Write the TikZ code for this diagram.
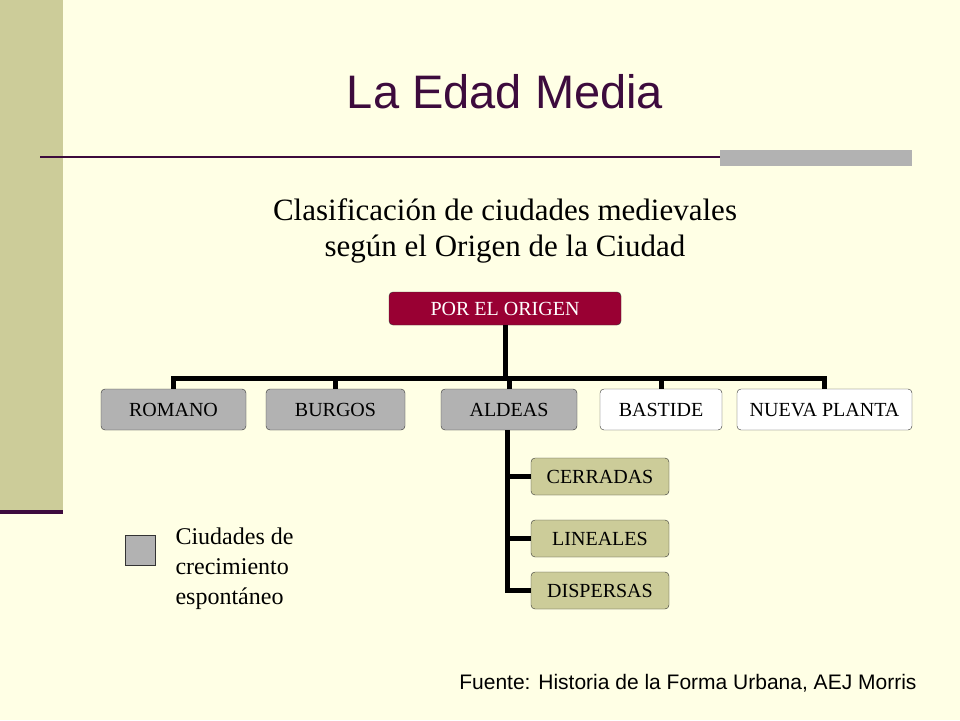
\documentclass[tikz,border=0pt]{standalone}
\usepackage{fontspec}
\setmainfont{Liberation Serif}
\newfontfamily\titlefont{Liberation Sans}
\definecolor{cream}{HTML}{FFFFE5}
\definecolor{olive}{HTML}{CCCC99}
\definecolor{darkpurple}{HTML}{3D0B3D}
\definecolor{crimson}{HTML}{990033}
\definecolor{boxgray}{HTML}{B2B2B2}
\definecolor{khaki}{HTML}{CCCC99}
\tikzset{
  box/.style={draw=black!80, rounded corners=4pt, minimum height=41pt, inner sep=0pt, text height=13pt, text depth=0pt, font=\fontsize{20}{20}\selectfont},
  subbox/.style={box, fill=khaki, minimum width=138pt, minimum height=37pt},
  tree/.style={line width=5pt}
}
\begin{document}
\begin{tikzpicture}[x=1pt,y=-1pt]
\useasboundingbox (0,0) rectangle (960,720);
\fill[cream] (0,0) rectangle (960,720);
\fill[olive] (0,0) rectangle (63,510);
\fill[darkpurple] (0,510) rectangle (63,514);
\draw[darkpurple, line width=1.5pt] (40,157)--(912,157);
\fill[boxgray] (720,150) rectangle (912,166);
\node[font=\titlefont\fontsize{47}{47}\selectfont, text=darkpurple] (title) at (505,92) {La Edad Media};
\node[font=\fontsize{31}{36}\selectfont, align=center] (subtitle) at (505,231) {Clasificación de ciudades medievales\\según el Origen de la Ciudad};
% arbol
\node[box, fill=crimson, text=white, minimum width=232pt, minimum height=33pt] (origen) at (505,308.5) {POR EL ORIGEN};
\node[box, fill=boxgray, minimum width=145pt] (romano) at (173.5,409.5) {ROMANO};
\node[box, fill=boxgray, minimum width=139pt] (burgos) at (335.5,409.5) {BURGOS};
\node[box, fill=boxgray, minimum width=136pt] (aldeas) at (509,409.5) {ALDEAS};
\node[box, fill=white, minimum width=122pt] (bastide) at (661,409.5) {BASTIDE};
\node[box, fill=white, minimum width=175pt] (nueva) at (824.5,409.5) {NUEVA PLANTA};
\node[subbox] (cerradas) at (600,476.5) {CERRADAS};
\node[subbox] (lineales) at (600,538.5) {LINEALES};
\node[subbox] (dispersas) at (600,590.5) {DISPERSAS};
\coordinate (bus) at (505,378);
\draw[tree] (origen.south) -- (bus);
\draw[tree] (romano.north) |- (bus) -| (nueva.north);
\foreach \n in {burgos,aldeas,bastide}
  \draw[tree] (\n.north) -- (\n.north |- bus);
\coordinate (trunk) at (507,590.5);
\draw[tree] (aldeas.south -| trunk) -- (trunk) -- (dispersas.west);
\foreach \n in {cerradas,lineales}
  \draw[tree] (\n.west -| trunk) -- (\n.west);
% leyenda
\node[draw=black!80, fill=boxgray, minimum size=30pt, inner sep=0pt] (legend) at (140,550) {};
\node[anchor=north west, align=left, font=\fontsize{24}{30}\selectfont] (legendtext) at (172,524) {Ciudades de\\crecimiento\\espontáneo};
\node[anchor=east, font=\titlefont\fontsize{21}{21}\selectfont] (fuente) at (920,683) {Fuente: Historia de la Forma Urbana, AEJ Morris};
\end{tikzpicture}
\end{document}
